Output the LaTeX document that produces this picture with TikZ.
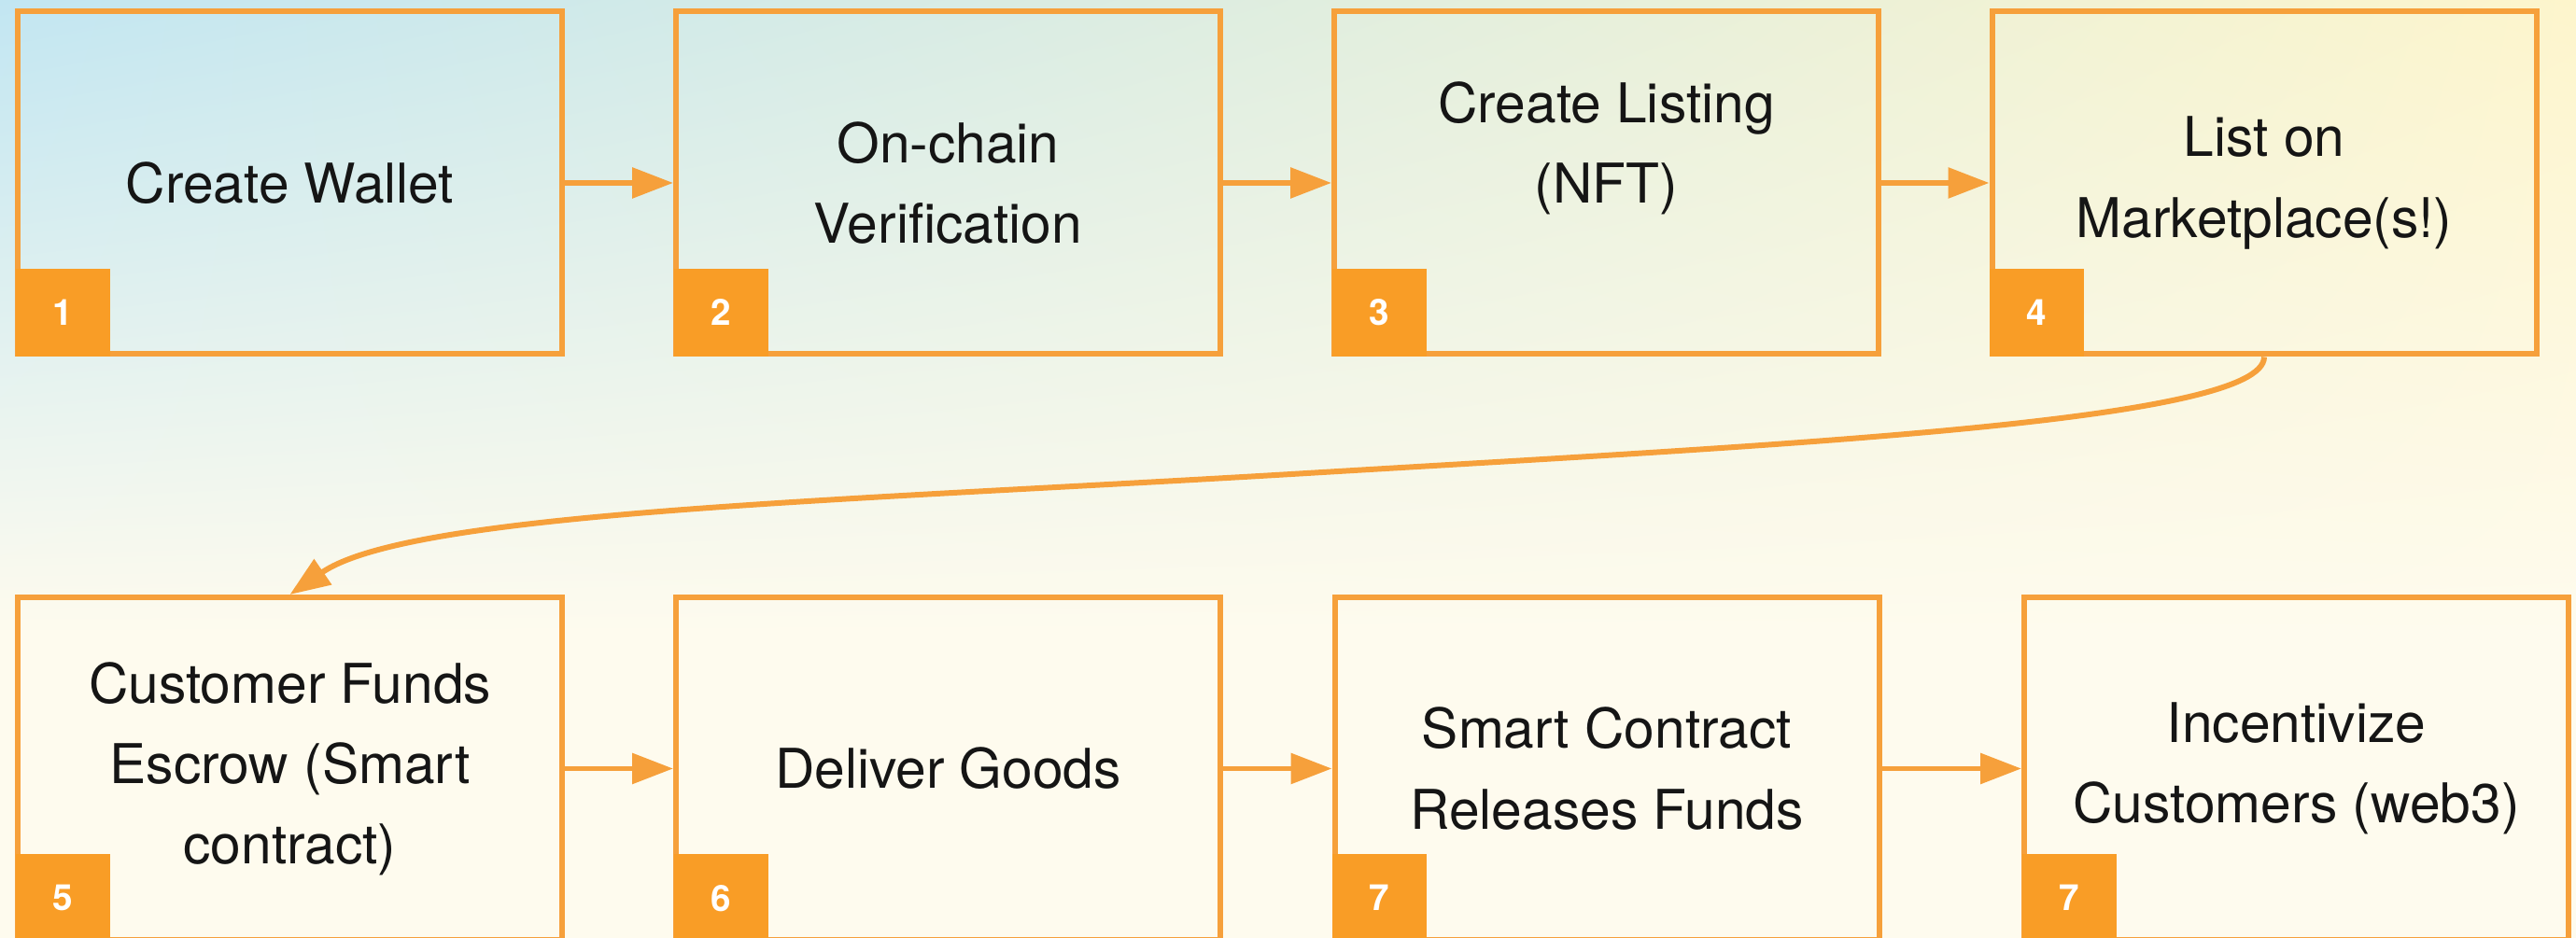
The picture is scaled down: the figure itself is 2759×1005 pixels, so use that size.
\documentclass[tikz,border=0pt]{standalone}
\usepackage{fontspec}
\setmainfont{TeX Gyre Heros}
\usetikzlibrary{arrows.meta,shadings}
\definecolor{lineor}{HTML}{F6A03B}
\definecolor{badgeor}{HTML}{F99D26}
\definecolor{cream}{HTML}{FEFBEE}
\definecolor{skyblue}{HTML}{C2E6F2}
\definecolor{paleyel}{HTML}{FDF5CC}
\definecolor{inkc}{HTML}{151515}
\begin{document}
\begin{tikzpicture}[x=0.1mm,y=-0.1mm,
  stepbox/.style={draw=lineor, line width=1.7pt, minimum width=58.3mm, minimum height=36.7mm,
    inner sep=0pt, align=center, font=\fontsize{16.7}{24.5}\selectfont, text=inkc},
  badge/.style={fill=badgeor, minimum width=10.1mm, minimum height=9.4mm, inner sep=0pt,
    anchor=south west, text=white, font=\fontsize{11}{13}\selectfont\bfseries},
  flow/.style={draw=lineor, line width=1.7pt, -{Triangle[length=4.4mm,width=3.2mm]}},
  curveflow/.style={draw=lineor, line width=1.7pt, -{Triangle[length=4.3mm,width=3.2mm]}}]
\useasboundingbox (0,0) rectangle (2759,1005);
\fill[cream] (0,0) rectangle (2759,1005);
\shade[upper left=skyblue, upper right=paleyel, lower left=cream, lower right=cream] (0,0) rectangle (2759,680);

\node[stepbox] (b1) at (310.5,196) {Create Wallet};
\node[stepbox] (b2) at (1015.5,196) {On-chain\\Verification};
\node[stepbox] (b3) at (1720.5,196) {Create Listing\\(NFT)\\\mbox{}};
\node[stepbox] (b4) at (2425,196) {List on\\Marketplace(s!)};
\node[stepbox] (b5) at (310.5,823.5) {Customer Funds\\Escrow (Smart\\contract)};
\node[stepbox] (b6) at (1015.5,823.5) {Deliver Goods};
\node[stepbox] (b7) at (1721,823.5) {Smart Contract\\Releases Funds};
\node[stepbox] (b8) at (2459.5,823.5) {Incentivize\\Customers (web3)};

\node[badge] (n1) at (b1.south west) {1};
\node[badge] (n2) at (b2.south west) {2};
\node[badge] (n3) at (b3.south west) {3};
\node[badge] (n4) at (b4.south west) {4};
\node[badge] (n5) at (b5.south west) {5};
\node[badge] (n6) at (b6.south west) {6};
\node[badge] (n7) at (b7.south west) {7};
\node[badge] (n8) at (b8.south west) {7};

\draw[flow] (b1.east) -- (b2.west);
\draw[flow] (b2.east) -- (b3.west);
\draw[flow] (b3.east) -- (b4.west);
\draw[flow] (b5.east) -- (b6.west);
\draw[flow] (b6.east) -- (b7.west);
\draw[flow] (b7.east) -- (b8.west);

\coordinate (mid) at (1400,507);
\draw[curveflow] (b4.south) .. controls +(0,70) and (1900,477) .. (mid)
  .. controls (900,537) and (440,548) .. (b5.north);
\end{tikzpicture}
\end{document}
